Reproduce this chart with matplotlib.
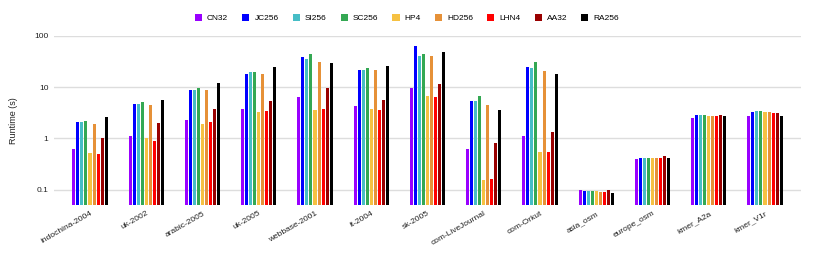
import numpy as np
import matplotlib
matplotlib.use("Agg")
import matplotlib.pyplot as plt

graphs = ["indochina-2004", "uk-2002", "arabic-2005", "uk-2005", "webbase-2001",
          "it-2004", "sk-2005", "com-LiveJournal", "com-Orkut", "asia_osm",
          "europe_osm", "kmer_A2a", "kmer_V1r"]
methods = ["CN32", "JC256", "SI256", "SC256", "HP4", "HD256", "LHN4", "AA32", "RA256"]
colors = ["#9900ff", "#0000ff", "#46bdc6", "#34a853", "#f6c142", "#e69138",
          "#ff0000", "#990000", "#000000"]

# runtime (s), one list per method, in order of graphs
CN32 = [0.63, 1.13, 2.33, 3.76, 6.35, 4.37, 9.5, 0.61, 1.10, 0.097, 0.40, 2.55, 2.79]
JC256 = [2.06, 4.64, 8.97, 17.9, 38.9, 22.0, 63.8, 5.39, 24.5, 0.095, 0.41, 2.83, 3.33]
SI256 = [2.13, 4.64, 8.97, 19.5, 36.1, 22.0, 41.3, 5.39, 24.1, 0.092, 0.41, 2.83, 3.44]
SC256 = [2.19, 5.15, 9.5, 20.1, 45.2, 23.4, 43.9, 6.74, 31.1, 0.092, 0.42, 2.83, 3.44]
HP4 = [0.53, 1.0, 1.92, 3.29, 3.6, 3.7, 6.64, 0.152, 0.54, 0.093, 0.41, 2.75, 3.24]
HD256 = [1.92, 4.5, 8.7, 18.4, 31.1, 22.0, 40.1, 4.5, 21.1, 0.090, 0.42, 2.79, 3.33]
LHN4 = [0.505, 0.89, 2.06, 3.49, 3.82, 3.6, 6.5, 0.159, 0.545, 0.090, 0.42, 2.75, 3.1]
AA32 = [1.0, 2.0, 3.7, 5.3, 9.5, 5.72, 11.6, 0.80, 1.34, 0.097, 0.46, 2.92, 3.1]
RA256 = [2.58, 5.63, 11.9, 25.2, 29.3, 26.0, 49.5, 3.6, 18.4, 0.0875, 0.41, 2.75, 2.79]
series = [CN32, JC256, SI256, SC256, HP4, HD256, LHN4, AA32, RA256]

plt.rcParams["font.family"] = ["Liberation Sans", "DejaVu Sans"]

fig = plt.figure(figsize=(8.14, 2.58), dpi=100)
ax = fig.add_axes([54 / 814, 1 - 205 / 258, 747 / 814, 169 / 258])

x = np.arange(len(graphs))
slot = 0.072
for i, (name, vals, c) in enumerate(zip(methods, series, colors)):
    ax.bar(x + (i - 4) * slot, vals, width=slot * 0.75, color=c, label=name,
           zorder=3)

ax.set_yscale("log")
ax.set_ylim(0.05, 100)
ax.set_xlim(-0.64, len(graphs) - 0.36)
ax.set_yticks([0.1, 1, 10, 100])
ax.set_yticklabels(["0.1", "1", "10", "100"])
ax.minorticks_off()
ax.yaxis.grid(True, color="#dddddd", linewidth=1, zorder=0)
ax.tick_params(axis="both", length=0, labelsize=6, colors="#222222")
ax.tick_params(axis="y", pad=4)
for s in ax.spines.values():
    s.set_visible(False)
ax.set_xticks(x)
ax.set_xticklabels(graphs, rotation=30, ha="right", rotation_mode="anchor")
ax.set_ylabel("Runtime (s)", fontsize=6.5, color="#222222")
ax.yaxis.set_label_coords(-36 / 747, 0.5)

fig.legend(loc="upper center", bbox_to_anchor=(0.5, 0.975), ncol=9, frameon=False,
           fontsize=6, handlelength=0.85, handleheight=0.85, columnspacing=1.7,
           handletextpad=0.6)

fig.savefig("out.png", dpi=100)
